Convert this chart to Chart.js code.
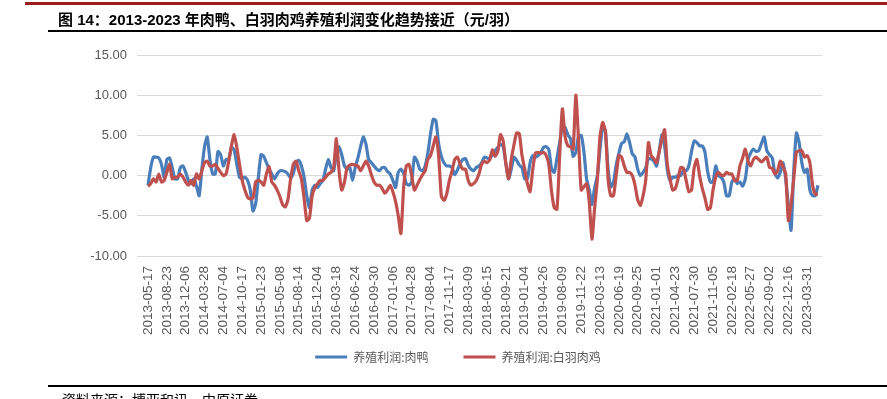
<!DOCTYPE html>
<html>
<head>
<meta charset="utf-8">
<script src="https://cdn.jsdelivr.net/npm/chart.js@4/dist/chart.umd.min.js"></script>
<style>
  html, body { margin: 0; padding: 0; background: #fff; }
  body { width: 887px; height: 399px; position: relative; overflow: hidden;
         font-family: Arial, "Liberation Sans", "Noto Sans CJK SC", sans-serif; }
  #redLine { position: absolute; left: 25px; right: 0; top: 2px; height: 3px; background: #9e1b1b; }
  #title { position: absolute; left: 58px; top: 8px; font-size: 15px; font-weight: bold; color: #000; white-space: nowrap; }
  #titleLine { position: absolute; left: 48px; right: 0; top: 30px; height: 2px; background: #000; }
  #bottomLine { position: absolute; left: 48px; right: 0; top: 385px; height: 2px; background: #000; }
  #source { position: absolute; left: 62px; top: 389px; font-size: 14px; color: #000; white-space: nowrap; }
  #wrap { position: absolute; left: 0; top: 0; width: 887px; height: 399px; }
</style>
</head>
<body>
<div id="wrap"><canvas id="grafico"></canvas></div>
<div id="redLine"></div>
<div id="title">图 14：2013-2023 年肉鸭、白羽肉鸡养殖利润变化趋势接近（元/羽）</div>
<div id="titleLine"></div>
<div id="bottomLine"></div>
<div id="source">资料来源：博亚和讯，中原证券</div>
<script>
// etiquetas del eje x (una cada 7 puntos)
const tickLabels = [
  '2013-05-17', '2013-08-23', '2013-12-06', '2014-03-28', '2014-07-04', '2014-10-17',
  '2015-01-23', '2015-05-08', '2015-08-14', '2015-12-04', '2016-03-18', '2016-06-24',
  '2016-09-30', '2017-01-06', '2017-04-28', '2017-08-04', '2017-11-17', '2018-03-09',
  '2018-06-15', '2018-09-21', '2019-01-04', '2019-04-26', '2019-08-09', '2019-11-22',
  '2020-03-13', '2020-06-19', '2020-09-25', '2021-01-01', '2021-04-23', '2021-07-30',
  '2021-11-05', '2022-02-18', '2022-05-27', '2022-09-02', '2022-12-16', '2023-03-31'
];
const perTick = 7;

const seriesNames = ['养殖利润:肉鸭', '养殖利润:白羽肉鸡'];

// 养殖利润:肉鸭
const duck = [
  -1.2, 1.0, 2.3, 2.3, 2.2, 1.4, -0.2, 2.0, 2.2, 1.0,
  -0.4, -0.4, 1.0, 1.2, 0.4, -0.6, -1.0, -0.4, -1.3, -2.5,
  0.8, 3.6, 4.8, 2.0, 0.2, 0.2, 3.0, 2.6, 1.2, 2.0,
  2.0, 3.5, 3.2, 1.4, -0.2, -0.4, -0.2, -0.6, -1.8, -4.4,
  -3.5, -0.3, 2.6, 2.4, 1.6, 0.8, 0.2, -0.4, 0.2, 0.6,
  0.6, 0.5, 0.2, -0.3, 0.3, 1.6, 1.9, 1.2, -0.2, -2.5,
  -4.0, -1.8, -1.2, -1.5, -1.0, -0.6, 0.8, 2.0, 1.0, 0.6,
  2.6, 3.6, 2.6, 1.2, 0.8, 1.0, -0.6, 1.0, 2.2, 3.6,
  4.8, 3.9, 2.0, 1.6, 1.2, 0.8, 0.6, 1.0, 1.0, 0.5,
  0.2, -0.6, -1.5, 0.4, 0.8, 0.3, -1.0, -1.2, -0.8, 2.3,
  1.8, 0.8, 0.6, 1.2, 2.8, 5.2, 7.0, 6.8, 4.0, 2.4,
  1.6, 1.2, 1.2, 1.0, 0.1, 0.7, 1.5, 2.0, 2.1, 1.3,
  0.8, 0.6, 1.0, 1.2, 1.6, 2.3, 2.2, 2.1, 2.6, 3.1,
  3.5, 3.9, 3.6, 1.5, -0.4, 0.8, 2.3, 1.9, 1.3, 1.0,
  -0.4, -0.4, 1.6, 2.5, 2.3, 2.5, 2.9, 3.5, 3.6, 3.2,
  0.8, 0.4, 2.2, 4.1, 6.0, 6.0, 5.1, 4.6, 2.4, 2.9,
  4.9, 5.0, 3.0, -0.4, -1.8, -3.6, -1.5, 0.0, 3.3, 6.2,
  5.5, 0.8, -1.4, -0.8, 1.3, 2.8, 4.0, 4.2, 5.2, 4.1,
  2.7, 2.3, 0.8, 0.0, 0.4, 1.0, 2.1, 2.1, 1.8, 1.2,
  3.1, 5.1, 3.7, 0.8, -0.6, -0.2, -0.2, 0.0, 0.0, 0.6,
  0.6, 1.2, 3.0, 4.3, 4.1, 3.7, 3.7, 2.9, 0.5, -0.8,
  -0.8, 1.2, 0.0, -0.2, -0.8, -2.5, -2.5, -0.8, -0.4, -1.0,
  -0.8, -1.3, -0.4, 2.0, 2.8, 3.3, 3.0, 3.1, 4.0, 4.8,
  3.1, 2.6, 2.2, 0.3, -0.3, 0.4, 1.6, -0.4, -3.7, -6.8,
  0.6, 5.3, 4.1, 1.6, 0.4, 0.8, -1.8, -2.5, -2.5, -1.2
];

// 养殖利润:白羽肉鸡
const broiler = [
  -1.35, -1.0, -0.4, -0.8, 0.2, -0.8, -0.6, 0.4, 1.4, -0.4,
  -0.2, -0.2, 0.2, -0.2, -0.8, -1.2, -0.6, -1.2, 0.2, -0.4,
  0.6, 1.6, 1.8, 1.2, 1.2, 1.4, 0.9, 0.4, 0.0, 0.2,
  1.8, 3.7, 5.1, 3.5, 1.4, -0.6, -1.8, -2.7, -2.9, -2.8,
  -0.8, -0.6, -0.8, -1.2, 0.2, 1.1, -0.8, -1.2, -1.8, -2.6,
  -3.6, -3.9, -3.0, -0.4, 1.4, 1.8, 0.6, -0.4, -2.8, -5.6,
  -5.3, -2.5, -1.5, -1.0, -0.6, -0.6, -0.2, 0.2, 0.4, 1.0,
  4.6, 0.6, -1.8, -0.8, 1.0, 1.3, 1.4, 1.3, 1.2, 0.6,
  1.2, 1.8, 1.2, 0.1, -0.8, -1.2, -1.2, -1.6, -2.2, -1.8,
  -1.2, -2.0, -3.2, -5.0, -7.2, -1.5, 1.2, 1.4, 0.0, -1.8,
  -1.2, -0.5, 0.1, 0.6, 2.0, 2.5, 3.7, 4.8, 2.5, -2.5,
  -3.1, -2.3, -0.6, 0.6, 2.0, 2.3, 1.4, 0.8, 0.8, -0.6,
  -1.2, -1.0, -0.6, 0.2, 1.4, 1.8, 1.6, 2.0, 3.2, 2.4,
  3.0, 5.1, 4.3, 1.5, -0.4, 2.0, 3.8, 5.3, 5.2, 2.5,
  0.8, -1.0, -2.0, 0.8, 2.8, 2.9, 2.8, 2.9, 2.5, 1.3,
  -2.0, -4.0, -4.2, 2.5, 8.3, 4.9, 3.7, 3.6, 3.3, 10.0,
  4.5, -1.8, -1.4, -1.0, -3.3, -7.9, -4.0, -0.5, 4.9, 6.6,
  5.5, -0.4, -2.5, -2.5, 0.0, 2.5, 2.3, 1.2, 0.4, 0.4,
  0.0, -1.2, -3.0, -3.7, -2.5, -0.5, 4.1, 2.5, 2.1, 1.6,
  3.0, 4.5, 5.7, 1.4, -0.4, -1.8, -1.6, -0.4, 1.0, 0.9,
  -0.6, -2.0, -1.8, 1.0, 2.0, 0.0, -1.6, -2.8, -4.2, -4.0,
  -1.8, -0.2, 0.4, 0.1, 0.0, 0.4, 0.2, 0.2, -0.6, -0.6,
  1.2, 2.2, 3.3, 1.8, 1.2, 2.0, 2.3, 2.0, 1.7, 2.0,
  2.3, 1.0, 0.9, 0.2, 0.6, 1.8, 1.1, 0.2, -5.6, -3.5,
  -0.4, 2.9, 3.1, 3.1, 2.3, 2.5, 1.6, -1.2, -2.3, -2.3
];

const yTicks = [-10, -5, 0, 5, 10, 15];

Chart.defaults.font.family = 'Arial, "Liberation Sans", "Noto Sans CJK SC", sans-serif';
Chart.defaults.color = '#595959';

function puntos(valores) {
  return valores.map(function (v, i) { return { x: i, y: v }; });
}

// mueve la leyenda a su sitio (arriba y a la derecha) despues del layout
const moverLeyenda = {
  id: 'moverLeyenda',
  afterLayout: function (chart) {
    const dx = 47, dy = -20;
    chart.legend.left += dx;
    chart.legend.right += dx;
    chart.legend.top += dy;
    chart.legend.bottom += dy;
  }
};

const ctx = document.getElementById('grafico').getContext('2d');
const grafico = new Chart(ctx, {
  type: 'line',
  data: {
    datasets: [{
      label: seriesNames[0],
      data: puntos(duck),
      borderColor: '#4a7ebb',
      backgroundColor: '#4a7ebb',
      borderWidth: 3.2,
      pointRadius: 0,
      tension: 0.2,
      borderJoinStyle: 'round',
      order: 1
    }, {
      label: seriesNames[1],
      data: puntos(broiler),
      borderColor: '#c0504d',
      backgroundColor: '#c0504d',
      borderWidth: 3.2,
      pointRadius: 0,
      tension: 0.2,
      borderJoinStyle: 'round',
      order: 0
    }]
  },
  plugins: [moverLeyenda],
  options: {
    responsive: true,
    maintainAspectRatio: false,
    animation: false,
    layout: { padding: { top: 55, right: 65, bottom: 6, left: 0 } },
    plugins: {
      tooltip: { enabled: false },
      legend: {
        position: 'bottom',
        labels: {
          usePointStyle: true,
          pointStyle: 'line',
          pointStyleWidth: 32,
          padding: 35,
          color: '#595959',
          font: { size: 12, family: '"Noto Sans CJK SC", sans-serif' },
          sort: function (a, b) { return a.datasetIndex - b.datasetIndex; }
        }
      }
    },
    scales: {
      x: {
        type: 'linear',
        min: -4.1,
        max: 250.5,
        grid: { display: false, drawTicks: false },
        border: { display: false },
        afterBuildTicks: function (scale) {
          scale.ticks = tickLabels.map(function (_, i) { return { value: i * perTick }; });
        },
        afterFit: function (scale) { scale.height = 80; },
        ticks: {
          autoSkip: false,
          minRotation: 90,
          maxRotation: 90,
          padding: 10,
          font: { size: 13.5 },
          callback: function (value, index) { return tickLabels[index]; }
        }
      },
      y: {
        min: yTicks[0],
        max: yTicks[yTicks.length - 1],
        afterBuildTicks: function (scale) {
          scale.ticks = yTicks.map(function (v) { return { value: v }; });
        },
        afterFit: function (scale) { scale.width = 137; },
        grid: { color: '#d9d9d9', lineWidth: 1, drawTicks: false },
        border: { display: false },
        ticks: {
          padding: 10,
          font: { size: 13 },
          callback: function (value) { return Number(value).toFixed(2); }
        }
      }
    }
  }
});
</script>
</body>
</html>
